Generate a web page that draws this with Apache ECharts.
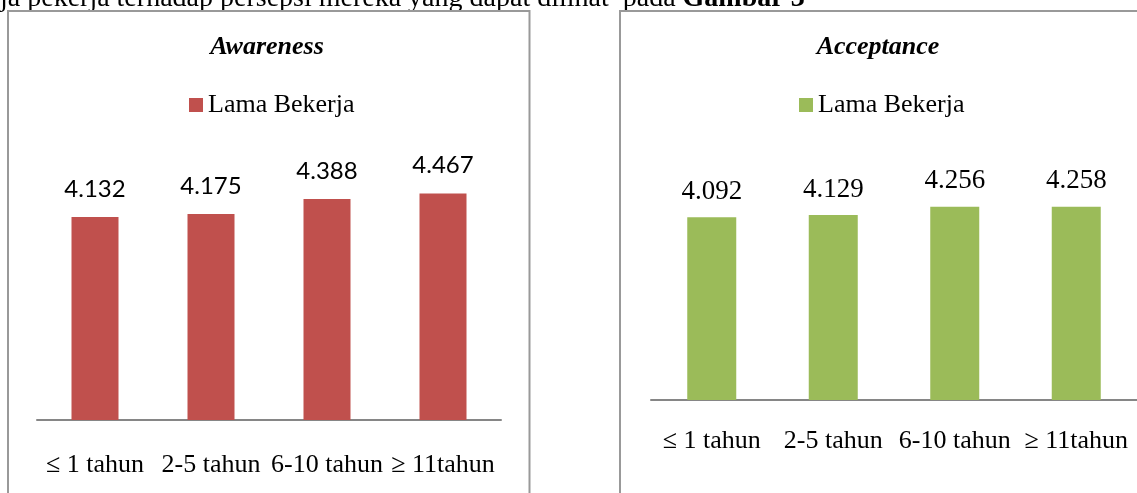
<!DOCTYPE html>
<html>
<head>
<meta charset="utf-8">
<style>
  html, body { margin: 0; padding: 0; background: #fff; }
  #chart { width: 1137px; height: 493px; }
</style>
<script src="https://cdn.jsdelivr.net/npm/echarts@6/dist/echarts.min.js"></script>
</head>
<body>
<div id="chart"></div>
<script>
// data
var categories = ["\u2264 1 tahun", "2-5 tahun", "6-10 tahun", "\u2265 11tahun"];
var awareness = [4.132, 4.175, 4.388, 4.467];
var acceptance = [4.092, 4.129, 4.256, 4.258];
var legendLabel = "Lama Bekerja";

var serif = "'Liberation Serif', 'Times New Roman', serif";
var axisGray = "#868686";
var frameGray = "#999999";

var myChart = echarts.init(document.getElementById("chart"));

function xAxisFor(gridIndex, margin) {
  return {
    type: "category",
    gridIndex: gridIndex,
    data: categories,
    axisTick: { show: false },
    axisLine: { lineStyle: { color: axisGray, width: 2 } },
    axisLabel: {
      margin: margin,
      interval: 0,
      color: "#000",
      fontFamily: serif,
      fontSize: 26
    }
  };
}

function yAxisFor(gridIndex) {
  // hidden value axis, the source chart does not start at 0
  return {
    type: "value",
    gridIndex: gridIndex,
    min: 1.25,
    max: 5,
    show: false
  };
}

var option = {
  animation: false,
  title: [
    {
      text: "Awareness",
      left: 262,
      top: 29,
      textAlign: "center",
      textStyle: { fontFamily: serif, fontSize: 26, fontWeight: "bold", fontStyle: "italic", color: "#000" }
    },
    {
      text: "Acceptance",
      left: 873,
      top: 29,
      textAlign: "center",
      textStyle: { fontFamily: serif, fontSize: 26, fontWeight: "bold", fontStyle: "italic", color: "#000" }
    }
  ],
  legend: [
    {
      data: ["Awareness"],
      left: 189,
      top: 92,
      padding: 0,
      icon: "rect",
      itemWidth: 14,
      itemHeight: 14,
      formatter: function () { return legendLabel; },
      textStyle: { fontFamily: serif, fontSize: 26, color: "#000" }
    },
    {
      data: ["Acceptance"],
      left: 799,
      top: 92,
      padding: 0,
      icon: "rect",
      itemWidth: 14,
      itemHeight: 14,
      formatter: function () { return legendLabel; },
      textStyle: { fontFamily: serif, fontSize: 26, color: "#000" }
    }
  ],
  grid: [
    { left: 37, width: 464, top: 156, height: 264 },
    { left: 651, width: 487, top: 159, height: 241 }
  ],
  xAxis: [xAxisFor(0, 32), xAxisFor(1, 28)],
  yAxis: [yAxisFor(0), yAxisFor(1)],
  series: [
    {
      name: "Awareness",
      type: "bar",
      xAxisIndex: 0,
      yAxisIndex: 0,
      barWidth: 47,
      data: awareness,
      itemStyle: { color: "#C0504D" },
      label: {
        show: true,
        position: "top",
        distance: 16,
        color: "#000",
        fontFamily: "Lato, 'Liberation Sans', sans-serif",
        fontSize: 24,
        formatter: function (p) { return p.value.toFixed(3); }
      }
    },
    {
      name: "Acceptance",
      type: "bar",
      xAxisIndex: 1,
      yAxisIndex: 1,
      barWidth: 49,
      data: acceptance,
      itemStyle: { color: "#9BBB59" },
      label: {
        show: true,
        position: "top",
        distance: 12,
        color: "#000",
        fontFamily: serif,
        fontSize: 27,
        formatter: function (p) { return p.value.toFixed(3); }
      }
    }
  ],
  graphic: [
    // running text of the page, cut at the top
    {
      type: "text",
      left: 0,
      top: -15,
      silent: true,
      style: {
        text: "{n|ja pekerja terhadap persepsi mereka yang dapat dilihat  pada }{b|Gambar 3}",
        rich: {
          n: { fontFamily: serif, fontSize: 28, color: "#000" },
          b: { fontFamily: serif, fontSize: 28, fontWeight: "bold", color: "#000" }
        }
      }
    },
    // panel frames
    {
      type: "rect",
      silent: true,
      shape: { x: 8, y: 11, width: 521.5, height: 500 },
      style: { fill: "none", stroke: frameGray, lineWidth: 2 }
    },
    {
      type: "rect",
      silent: true,
      shape: { x: 620, y: 11, width: 540, height: 500 },
      style: { fill: "none", stroke: frameGray, lineWidth: 2 }
    }
  ]
};

myChart.setOption(option);
</script>
</body>
</html>
